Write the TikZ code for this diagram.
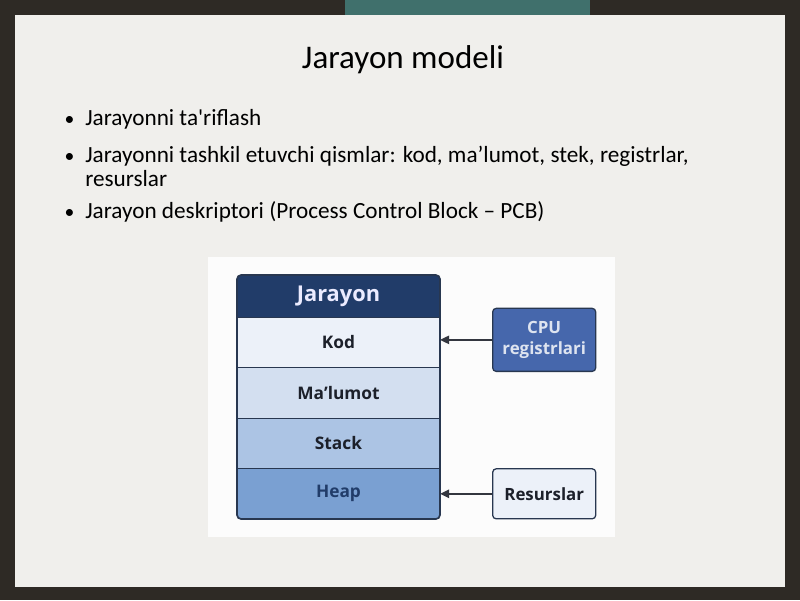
\documentclass[tikz,border=0pt]{standalone}
\usepackage{fontspec}
\setmainfont{Carlito}
\newfontfamily\diagfont{Open Sans}
\usepackage{tikz}
\usetikzlibrary{arrows.meta, positioning}
\definecolor{bgdark}{RGB}{46,42,37}
\definecolor{bgteal}{RGB}{64,112,108}
\definecolor{panel}{RGB}{240,239,236}
\definecolor{navy}{RGB}{33,60,105}
\definecolor{edge}{RGB}{40,55,80}
\definecolor{layerA}{RGB}{236,241,249}
\definecolor{layerB}{RGB}{211,223,240}
\definecolor{layerC}{RGB}{172,196,228}
\definecolor{layerD}{RGB}{122,160,210}
\definecolor{cpublue}{RGB}{70,103,172}
\definecolor{ink}{RGB}{28,32,42}
\begin{document}
\begin{tikzpicture}[
      x=0.025cm, y=-0.025cm,
      layer/.style={rectangle, draw=edge, line width=0.6pt, text=ink, outer sep=0pt,
                    minimum width=5.075cm, minimum height=1.2625cm,
                    font=\diagfont\fontsize{12.3}{14}\selectfont\bfseries},
      sidebox/.style={rectangle, rounded corners=2.5pt, draw=edge, line width=0.9pt,
                      minimum width=2.575cm, align=center,
                      font=\diagfont\fontsize{12}{15}\selectfont\bfseries},
      bullet/.style={anchor=base, inner sep=0pt, font=\fontsize{14}{17}\selectfont},
      item/.style={anchor=base west, inner sep=0pt, font=\fontsize{16.5}{19}\selectfont},
      feed/.style={-{Triangle[length=6.5pt, width=6pt]}, line width=1.1pt, draw=ink!90}
    ]
    \fill[bgdark] (0,0) rectangle (800,600);
    \fill[bgteal] (345,0) rectangle (590,15);
    \fill[panel] (15,15) rectangle (785,587);

    \node[anchor=base, font=\fontsize{23.5}{27}\selectfont] (title) at (403,68) {Jarayon modeli};

    \node[bullet] (d1) at (69.5,125.5) {•};
    \node[item] (t1) at (85,125.5) {Jarayonni ta\textquotesingle riflash};
    \node[bullet] (d2) at (69.5,162.5) {•};
    \node[item] (t2) at (85,162.5) {Jarayonni tashkil etuvchi qismlar: kod, ma’lumot, stek, registrlar,};
    \node[item] (t2b) at (85,186) {resurslar};
    \node[bullet] (d3) at (69.5,218) {•};
    \node[item] (t3) at (85,218) {Jarayon deskriptori (Process Control Block – PCB)};

    \fill[white!98!gray] (208,257) rectangle (615,537);

    \begin{scope}
      \clip[rounded corners=3pt] (237,275) rectangle (440,519);
      \node[layer, fill=navy, text=white!92!blue, minimum height=1.05cm,
            font=\diagfont\fontsize{15.5}{19}\selectfont\bfseries] (jar) at (338.5,296) {Jarayon};
      \node[layer, fill=layerA, below=0pt of jar] (kod) {Kod};
      \node[layer, fill=layerB, below=0pt of kod] (mal) {Ma’lumot};
      \node[layer, fill=layerC, below=0pt of mal] (stk) {Stack};
      \node[layer, fill=layerD, text=navy, below=0pt of stk] (heap) {Heap};
    \end{scope}
    \draw[edge, line width=1.2pt, rounded corners=3pt] (jar.north west) rectangle (heap.south east);

    \node[sidebox, fill=cpublue, text=white!82!cpublue, minimum height=1.575cm,
          right=1.3cm of kod, yshift=0.06cm] (cpu) {CPU\\registrlari};
    \node[sidebox, fill=layerA, text=ink, minimum height=1.25cm,
          right=1.3cm of heap] (res) {Resurslar};

    \draw[feed] (cpu.west) -- (cpu.west -| kod.east);
    \draw[feed] (res.west) -- (res.west -| heap.east);
  \end{tikzpicture}
\end{document}
